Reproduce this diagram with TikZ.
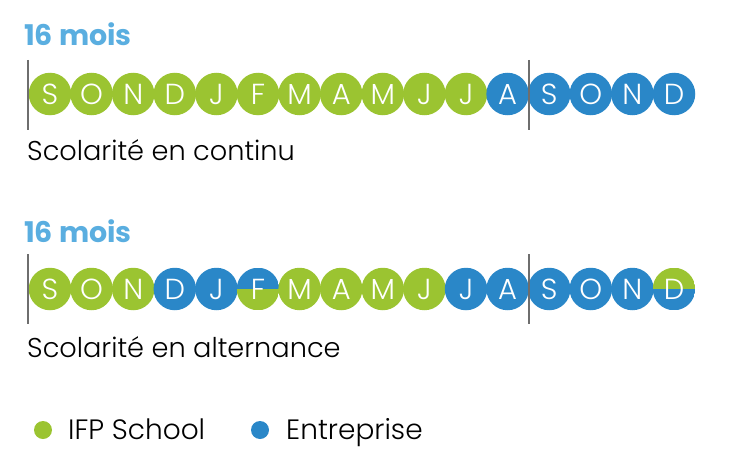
\documentclass[tikz,border=0pt]{standalone}
\usepackage{fontspec}
\setmainfont{Poppins}
\newfontfamily\lightfont{Poppins Light}
\definecolor{ifpgreen}{HTML}{9BC431}
\definecolor{entblue}{HTML}{2A87C8}
\definecolor{titleblue}{HTML}{5AAEE0}
\definecolor{rulegray}{HTML}{6E6E6E}
\tikzset{
  month/.style={circle, minimum size=42.5pt, inner sep=0pt, text=white,
    font=\lightfont\fontsize{29}{29}\selectfont},
  sch/.style={month, fill=ifpgreen},
  ent/.style={month, fill=entblue},
  halfBG/.style={month, path picture={
    \fill[entblue] (path picture bounding box.north west) rectangle (path picture bounding box.east);
    \fill[ifpgreen] (path picture bounding box.west) rectangle (path picture bounding box.south east);}},
  halfGB/.style={month, path picture={
    \fill[ifpgreen] (path picture bounding box.north west) rectangle (path picture bounding box.east);
    \fill[entblue] (path picture bounding box.west) rectangle (path picture bounding box.south east);}},
  title/.style={anchor=base west, text=titleblue, font=\bfseries\fontsize{28.5}{28.5}\selectfont, inner sep=0pt},
  label/.style={anchor=base west, text=black, font=\lightfont\fontsize{27.2}{27.2}\selectfont, inner sep=0pt},
  legtext/.style={anchor=base west, text=black, font=\lightfont\fontsize{28}{28}\selectfont, inner sep=0pt},
  bar/.style={draw=rulegray, line width=1.4pt},
  dot/.style={circle, minimum size=18pt, inner sep=0pt}
}
\begin{document}
\begin{tikzpicture}[x=1pt,y=-1pt]
\useasboundingbox (0,0) rectangle (752,460);
% row 1
\node[title] (title1) at (24,46) {16 mois};
\foreach \m/\s [count=\i from 0] in {S/sch,O/sch,N/sch,D/sch,J/sch,F/sch,M/sch,A/sch,M/sch,J/sch,J/sch,A/ent,S/ent,O/ent,N/ent,D/ent}
  \node[\s] (a\i) at ({50+41.6*\i},94) {\m};
\coordinate (a-top1) at (28,60);
\coordinate (a-bot1) at (28,130);
\coordinate (a-top2) at (529,60);
\coordinate (a-bot2) at (529,130);
\draw[bar] (a-top1) -- (a-bot1);
\draw[bar] (a-top2) -- (a-bot2);
\node[label] (label1) at (27,160) {Scolarité en continu};
% row 2
\node[title] (title2) at (24,242) {16 mois};
\foreach \m/\s [count=\i from 0] in {S/sch,O/sch,N/sch,D/ent,J/ent,F/halfBG,M/sch,A/sch,M/sch,J/sch,J/ent,A/ent,S/ent,O/ent,N/ent,D/halfGB}
  \node[\s] (b\i) at ({50+41.6*\i},289) {\m};
\coordinate (b-top1) at (28,254);
\coordinate (b-bot1) at (28,324);
\coordinate (b-top2) at (529,254);
\coordinate (b-bot2) at (529,324);
\draw[bar] (b-top1) -- (b-bot1);
\draw[bar] (b-top2) -- (b-bot2);
\node[label] (label2) at (27,357) {Scolarité en alternance};
% legend
\node[dot, fill=ifpgreen] (legA) at (43,430) {};
\node[legtext] (legAt) at (68,439) {IFP School};
\node[dot, fill=entblue] (legB) at (260,430) {};
\node[legtext] (legBt) at (286,439) {Entreprise};
\end{tikzpicture}
\end{document}
